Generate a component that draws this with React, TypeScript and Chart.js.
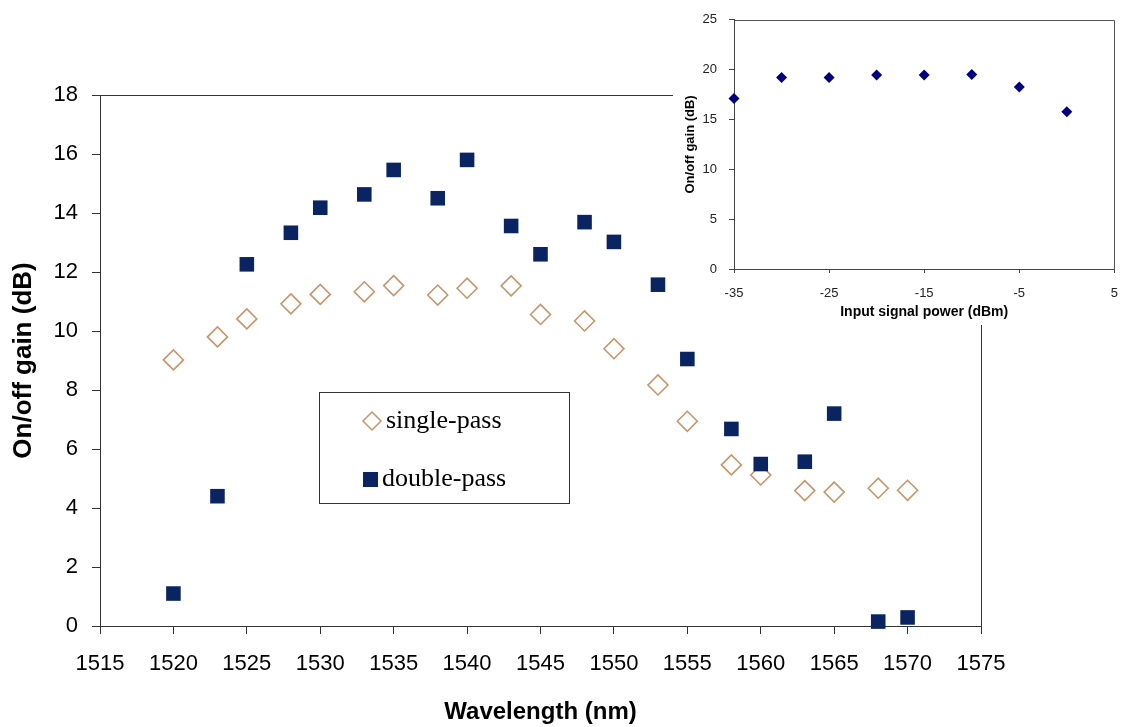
import React, { useEffect, useRef } from "react";
import { Chart, registerables } from "chart.js";

Chart.register(...registerables);

// Main chart data
const wavelengths = [1520, 1523, 1525, 1528, 1530, 1533, 1535, 1538, 1540, 1543, 1545, 1548, 1550, 1553, 1555, 1558, 1560, 1563, 1565, 1568, 1570];
const singlePass = [9.02, 9.8, 10.41, 10.92, 11.24, 11.33, 11.54, 11.22, 11.45, 11.53, 10.56, 10.34, 9.4, 8.17, 6.94, 5.46, 5.12, 4.59, 4.54, 4.67, 4.6];
const doublePass = [1.1, 4.4, 12.26, 13.33, 14.18, 14.63, 15.46, 14.5, 15.8, 13.56, 12.6, 13.69, 13.02, 11.57, 9.05, 6.68, 5.49, 5.57, 7.2, 0.15, 0.29];

// Inset data
const inputPower = [-35, -30, -25, -20, -15, -10, -5, 0];
const insetGain = [17.1, 19.2, 19.2, 19.45, 19.45, 19.5, 18.26, 15.77];

const seriesNames = ["single-pass", "double-pass"];
const NAVY = "#0a2361";
const TAN = "#c8946a";

const W = 1131;
const H = 727;
const INSET_LEFT = 673;
const INSET_W = W - INSET_LEFT;
const INSET_H = 325;

const plainTick = (v: any) => String(v);

const boxPlugin = {
  id: "boxPlugin",
  afterDraw(chart: any, _args: any, opts: any) {
    const { ctx, chartArea } = chart;
    ctx.save();
    ctx.strokeStyle = opts.color || "#333";
    ctx.lineWidth = 1;
    ctx.beginPath();
    ctx.moveTo(Math.round(chartArea.left) + 0.5, Math.round(chartArea.top) + 0.5);
    ctx.lineTo(Math.round(chartArea.right) + 0.5, Math.round(chartArea.top) + 0.5);
    ctx.lineTo(Math.round(chartArea.right) + 0.5, Math.round(chartArea.bottom) + 0.5);
    ctx.stroke();
    ctx.restore();
  },
};

const legendPlugin = {
  id: "boxLegend",
  afterDraw(chart: any) {
    const { ctx } = chart;
    ctx.save();
    ctx.fillStyle = "#fff";
    ctx.fillRect(319, 392, 250, 111);
    ctx.strokeStyle = "#333";
    ctx.lineWidth = 1;
    ctx.strokeRect(319.5, 392.5, 250, 111);
    // diamond
    ctx.strokeStyle = TAN;
    ctx.lineWidth = 1.5;
    ctx.beginPath();
    const cx = 372, cy = 421, r = 9;
    ctx.moveTo(cx, cy - r);
    ctx.lineTo(cx + r, cy);
    ctx.lineTo(cx, cy + r);
    ctx.lineTo(cx - r, cy);
    ctx.closePath();
    ctx.stroke();
    // square
    ctx.fillStyle = NAVY;
    ctx.fillRect(363, 472, 15, 15);
    ctx.fillStyle = "#000";
    ctx.font = '26px "Liberation Serif", "Times New Roman", serif';
    ctx.textBaseline = "alphabetic";
    ctx.textAlign = "left";
    ctx.fillText(seriesNames[0], 386, 428);
    ctx.fillText(seriesNames[1], 382, 486);
    ctx.restore();
  },
};

export default function App() {
  const mainRef = useRef<HTMLCanvasElement>(null);
  const insetRef = useRef<HTMLCanvasElement>(null);

  useEffect(() => {
    document.body.style.margin = "0";
    const main = new Chart(mainRef.current as HTMLCanvasElement, {
      type: "scatter",
      data: {
        datasets: [
          {
            label: seriesNames[0],
            data: wavelengths.map((x, i) => ({ x, y: singlePass[i] })),
            pointStyle: "rectRot",
            pointRadius: 10,
            pointHoverRadius: 10,
            pointBorderWidth: 1.6,
            borderColor: TAN,
            backgroundColor: "rgba(255,255,255,0)",
            order: 2,
            clip: false,
          } as any,
          {
            label: seriesNames[1],
            data: wavelengths.map((x, i) => ({ x, y: doublePass[i] })),
            pointStyle: "rect",
            pointRadius: 10.3,
            pointHoverRadius: 10.3,
            pointBorderWidth: 0,
            borderColor: NAVY,
            backgroundColor: NAVY,
            order: 1,
            clip: false,
          } as any,
        ],
      },
      options: {
        responsive: false,
        animation: false,
        devicePixelRatio: 1,
        layout: { padding: { left: 0, top: 95, right: W - 981, bottom: 0 } },
        plugins: {
          legend: { display: false },
          tooltip: { enabled: false },
          boxPlugin: { color: "#333" },
        } as any,
        scales: {
          x: {
            type: "linear",
            min: 1515,
            max: 1575,
            afterFit: (s: any) => {
              s.height = H - 626;
            },
            ticks: {
              stepSize: 5,
              color: "#000",
              padding: 17,
              font: { family: "Arial, 'Liberation Sans', sans-serif", size: 22 },
              maxRotation: 0,
              callback: plainTick,
            },
            grid: { drawOnChartArea: false, drawTicks: true, tickLength: 8, color: "#333" },
            border: { display: true, color: "#333", width: 1 },
            title: {
              display: true,
              text: "Wavelength (nm)",
              color: "#000",
              font: { family: "Arial, 'Liberation Sans', sans-serif", size: 24, weight: "bold" },
              padding: { top: 0, bottom: 0 },
            },
          },
          y: {
            type: "linear",
            min: 0,
            max: 18,
            afterFit: (s: any) => {
              s.width = 100;
            },
            ticks: {
              stepSize: 2,
              color: "#000",
              padding: 14,
              font: { family: "Arial, 'Liberation Sans', sans-serif", size: 22 },
              callback: plainTick,
            },
            grid: { drawOnChartArea: false, drawTicks: true, tickLength: 8, color: "#333" },
            border: { display: true, color: "#333", width: 1 },
            title: {
              display: true,
              text: "On/off gain (dB)",
              color: "#000",
              font: { family: "Arial, 'Liberation Sans', sans-serif", size: 26, weight: "bold" },
              padding: { top: 8, bottom: 0 },
            },
          },
        },
      },
      plugins: [boxPlugin, legendPlugin],
    });

    const inset = new Chart(insetRef.current as HTMLCanvasElement, {
      type: "scatter",
      data: {
        datasets: [
          {
            label: "On/off gain",
            data: inputPower.map((x, i) => ({ x, y: insetGain[i] })),
            pointStyle: "rectRot",
            pointRadius: 5.5,
            pointHoverRadius: 5.5,
            pointBorderWidth: 0,
            borderColor: "#000080",
            backgroundColor: "#000080",
            clip: false,
          } as any,
        ],
      },
      options: {
        responsive: false,
        animation: false,
        devicePixelRatio: 1,
        layout: { padding: { left: 0, top: 15, right: INSET_W - (1120 - INSET_LEFT), bottom: 0 } },
        plugins: {
          legend: { display: false },
          tooltip: { enabled: false },
          boxPlugin: { color: "#555" },
        } as any,
        scales: {
          x: {
            type: "linear",
            min: -35,
            max: 5,
            afterFit: (s: any) => {
              s.height = INSET_H - 269;
            },
            ticks: {
              stepSize: 10,
              color: "#222",
              padding: 13,
              font: { family: "Arial, 'Liberation Sans', sans-serif", size: 13 },
              maxRotation: 0,
              callback: plainTick,
            },
            grid: { drawOnChartArea: false, drawTicks: true, tickLength: 4, color: "#444" },
            border: { display: true, color: "#444", width: 1 },
            title: {
              display: true,
              text: "Input signal power (dBm)",
              color: "#000",
              font: { family: "Arial, 'Liberation Sans', sans-serif", size: 14, weight: "bold" },
              padding: { top: 0, bottom: 4 },
            },
          },
          y: {
            type: "linear",
            min: 0,
            max: 25,
            afterFit: (s: any) => {
              s.width = 734 - INSET_LEFT;
            },
            ticks: {
              stepSize: 5,
              color: "#222",
              padding: 12,
              font: { family: "Arial, 'Liberation Sans', sans-serif", size: 13 },
              callback: plainTick,
            },
            grid: { drawOnChartArea: false, drawTicks: true, tickLength: 5, color: "#444" },
            border: { display: true, color: "#444", width: 1 },
            title: {
              display: true,
              text: "On/off gain (dB)",
              color: "#000",
              font: { family: "Arial, 'Liberation Sans', sans-serif", size: 13, weight: "bold" },
              padding: { top: 10, bottom: 0 },
            },
          },
        },
      },
      plugins: [boxPlugin],
    });

    return () => {
      main.destroy();
      inset.destroy();
    };
  }, []);

  return (
    <div style={{ position: "relative", width: W, height: H, background: "#fff", overflow: "hidden" }}>
      <canvas
        ref={mainRef}
        width={W}
        height={H}
        style={{ position: "absolute", left: 0, top: 0, width: W, height: H, display: "block" }}
      />
      <canvas
        ref={insetRef}
        width={INSET_W}
        height={INSET_H}
        style={{
          position: "absolute",
          left: INSET_LEFT,
          top: 0,
          width: INSET_W,
          height: INSET_H,
          display: "block",
          background: "#fff",
        }}
      />
    </div>
  );
}
